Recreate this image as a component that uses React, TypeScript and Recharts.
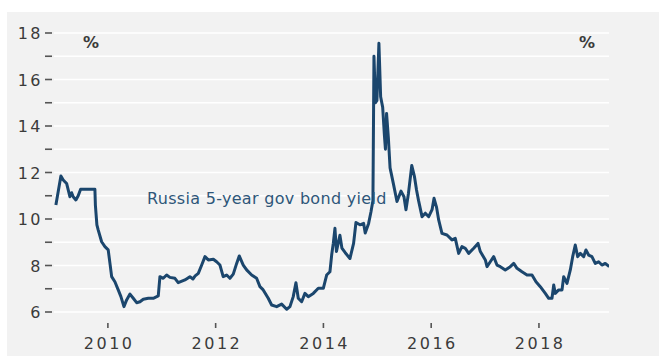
import React from 'react';
import { LineChart, Line, XAxis, YAxis, CartesianGrid } from 'recharts';

// Russia 5-year government bond yield, %
const years = [
  2009.035, 2009.128, 2009.171, 2009.234, 2009.295, 2009.327, 2009.356, 2009.406, 2009.449, 2009.494,
  2009.62, 2009.759, 2009.768, 2009.796, 2009.82, 2009.884, 2009.945, 2010.006, 2010.038, 2010.07,
  2010.13, 2010.192, 2010.242, 2010.298, 2010.348, 2010.41, 2010.471, 2010.534, 2010.595, 2010.657,
  2010.75, 2010.842, 2010.935, 2010.966, 2011.027, 2011.09, 2011.151, 2011.244, 2011.305, 2011.43,
  2011.522, 2011.578, 2011.62, 2011.678, 2011.741, 2011.802, 2011.864, 2011.957, 2012.018, 2012.08,
  2012.14, 2012.204, 2012.265, 2012.327, 2012.39, 2012.438, 2012.512, 2012.575, 2012.668, 2012.76,
  2012.822, 2012.883, 2012.976, 2013.039, 2013.132, 2013.225, 2013.318, 2013.379, 2013.44, 2013.49,
  2013.533, 2013.596, 2013.657, 2013.719, 2013.812, 2013.905, 2013.998, 2014.06, 2014.121, 2014.153,
  2014.183, 2014.214, 2014.242, 2014.306, 2014.343, 2014.405, 2014.492, 2014.56, 2014.604, 2014.678,
  2014.746, 2014.776, 2014.839, 2014.882, 2014.919, 2014.938, 2014.966, 2014.993, 2015.03, 2015.062,
  2015.1, 2015.132, 2015.151, 2015.172, 2015.205, 2015.237, 2015.3, 2015.365, 2015.44, 2015.495,
  2015.532, 2015.578, 2015.64, 2015.69, 2015.728, 2015.765, 2015.83, 2015.891, 2015.954, 2016.016,
  2016.053, 2016.1, 2016.139, 2016.2, 2016.293, 2016.386, 2016.447, 2016.51, 2016.571, 2016.633,
  2016.696, 2016.789, 2016.869, 2016.912, 2017.005, 2017.036, 2017.097, 2017.16, 2017.221, 2017.283,
  2017.375, 2017.468, 2017.532, 2017.593, 2017.685, 2017.778, 2017.871, 2017.945, 2018.025, 2018.118,
  2018.181, 2018.242, 2018.274, 2018.303, 2018.366, 2018.428, 2018.459, 2018.52, 2018.582, 2018.626,
  2018.674, 2018.719, 2018.767, 2018.83, 2018.872, 2018.922, 2018.983, 2019.045, 2019.107, 2019.169,
  2019.23, 2019.304,
];

const yields = [
  10.6, 11.85, 11.68, 11.53, 10.96, 11.13, 10.96, 10.82, 11.0, 11.28,
  11.28, 11.28, 10.6, 9.75, 9.53, 9.02, 8.81, 8.67, 8.1, 7.52,
  7.3, 6.95, 6.66, 6.23, 6.52, 6.77, 6.59, 6.4, 6.44, 6.55,
  6.59, 6.59, 6.69, 7.52, 7.45, 7.59, 7.49, 7.45, 7.26, 7.38,
  7.52, 7.42, 7.55, 7.66, 8.02, 8.38, 8.24, 8.27, 8.16, 8.02,
  7.52, 7.59, 7.45, 7.63, 8.09, 8.41, 8.02, 7.81, 7.59, 7.45,
  7.09, 6.95, 6.59, 6.3, 6.23, 6.34, 6.12, 6.23, 6.66, 7.26,
  6.59, 6.44, 6.8, 6.66, 6.8, 7.02, 7.02, 7.59, 7.73, 8.45,
  8.95, 9.6, 8.6, 9.3, 8.75, 8.55, 8.3, 8.95, 9.85, 9.75,
  9.81, 9.4, 9.81, 10.3, 10.8, 17.0, 15.0, 15.1, 17.56, 15.26,
  14.8, 13.6, 13.0, 14.54, 13.5, 12.2, 11.5, 10.75, 11.2, 10.96,
  10.4, 11.1, 12.3, 11.82, 11.25, 10.8, 10.1, 10.25, 10.1, 10.4,
  10.89, 10.5, 9.96, 9.38, 9.31, 9.1, 9.17, 8.52, 8.81, 8.74,
  8.52, 8.74, 8.95, 8.6, 8.24, 7.95, 8.16, 8.38, 8.02, 7.95,
  7.81, 7.95, 8.09, 7.88, 7.73, 7.59, 7.59, 7.3, 7.09, 6.8,
  6.59, 6.59, 7.16, 6.8, 6.95, 6.95, 7.52, 7.23, 7.81, 8.38,
  8.88, 8.38, 8.52, 8.38, 8.67, 8.45, 8.38, 8.09, 8.16, 8.02,
  8.09, 7.95,
];

const xTicks = [2010, 2012, 2014, 2016, 2018];
const yTicks = [6, 7, 8, 9, 10, 11, 12, 13, 14, 15, 16, 17, 18];
const yLabels = [6, 8, 10, 12, 14, 16, 18];

const data = years.map((t, i) => ({ t, v: yields[i] }));

const LINE = '#1b466d';
const INK = '#3b3b3b';
const DASH = '#555';
const FONT = '"DejaVu Sans", sans-serif';

const LeftTick = (props: any) => {
  const { x, y, payload } = props;
  return (
    <g>
      <line x1={x - 9} x2={x - 2} y1={y} y2={y} stroke={DASH} strokeWidth={1.6} />
      {yLabels.includes(payload.value) && (
        <text x={x - 11} y={y + 6} textAnchor="end" fill={INK} fontSize={16} fontFamily={FONT} letterSpacing={2.5}>
          {payload.value}
        </text>
      )}
    </g>
  );
};

const RightTick = (props: any) => {
  const { x, y, payload } = props;
  return (
    <g>
      <line x1={x + 3} x2={x + 10} y1={y} y2={y} stroke={DASH} strokeWidth={1.6} />
      {yLabels.includes(payload.value) && (
        <text x={x + 16} y={y + 6} textAnchor="start" fill={INK} fontSize={16} fontFamily={FONT} letterSpacing={2.5}>
          {payload.value}
        </text>
      )}
    </g>
  );
};

const BottomTick = (props: any) => {
  const { x, y, payload } = props;
  return (
    <g>
      <line x1={x} x2={x} y1={y + 11} y2={y + 16} stroke={DASH} strokeWidth={1.6} />
      <text x={x + 1.25} y={y + 37} textAnchor="middle" fill={INK} fontSize={16} fontFamily={FONT} letterSpacing={2.5}>
        {payload.value}
      </text>
    </g>
  );
};

export default function App() {
  return (
    <div style={{ position: 'relative', width: 664, height: 356, background: '#fff', overflow: 'hidden' }}>
      <style>{'body{margin:0}'}</style>
      <div style={{ position: 'absolute', left: 7, top: 12, width: 652, height: 344, background: '#f2f2f2' }} />
      <div style={{ position: 'absolute', left: 0, top: 0 }}>
        <LineChart width={664} height={356} data={data} margin={{ top: 33, right: 0, bottom: 0, left: 0 }}>
          <CartesianGrid vertical={false} stroke="#ffffff" strokeWidth={1.5} />
          <XAxis
            dataKey="t"
            type="number"
            domain={[2009, 2019.3]}
            allowDataOverflow
            ticks={xTicks}
            height={44}
            axisLine={false}
            tickLine={false}
            tickSize={0}
            tickMargin={0}
            tick={<BottomTick />}
          />
          <YAxis
            domain={[6, 18]}
            ticks={yTicks}
            width={54}
            axisLine={false}
            tickLine={false}
            tickSize={0}
            tickMargin={0}
            interval={0}
            tick={<LeftTick />}
          />
          <YAxis
            yAxisId="r"
            orientation="right"
            domain={[6, 18]}
            ticks={yTicks}
            width={55}
            axisLine={false}
            tickLine={false}
            tickSize={0}
            tickMargin={0}
            interval={0}
            tick={<RightTick />}
          />
          <Line
            type="linear"
            dataKey="v"
            stroke={LINE}
            strokeWidth={3}
            strokeLinejoin="round"
            dot={false}
            isAnimationActive={false}
          />
        </LineChart>
      </div>
      <svg width={664} height={356} style={{ position: 'absolute', left: 0, top: 0, pointerEvents: 'none' }}>
        <text x={83} y={48} fill={INK} fontSize={16} fontWeight="bold" fontFamily={FONT}>%</text>
        <text x={579} y={48} fill={INK} fontSize={16} fontWeight="bold" fontFamily={FONT}>%</text>
        <text x={147} y={204} fill="#2e5679" fontSize={16} fontFamily={FONT} letterSpacing={0.3}>
          Russia 5-year gov bond yield
        </text>
      </svg>
    </div>
  );
}
